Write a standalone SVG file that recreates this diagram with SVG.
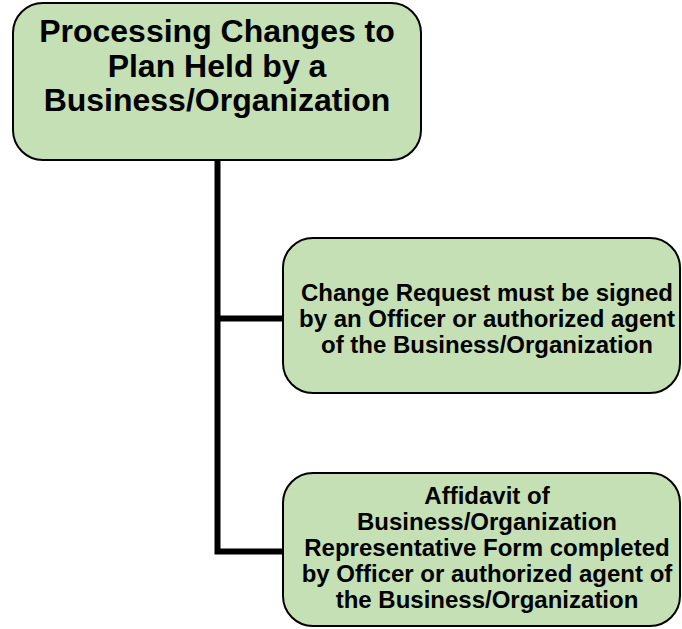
<svg xmlns="http://www.w3.org/2000/svg" width="682" height="629" viewBox="0 0 682 629">
  <style>
    .box { fill: #c5e0b4; stroke: #000; stroke-width: 2; }
    .link { fill: none; stroke: #000; stroke-width: 6; stroke-linejoin: miter; }
    .label { font-family: "Liberation Sans", Arial, sans-serif; font-weight: 700; text-anchor: middle; fill: #000; }
  </style>
  <rect width="682" height="629" fill="#fff"/>

  <!-- connectors: trunk from the root with two branches -->
  <g id="connectors">
    <path class="link" d="M217.5 160 V551.5 H284"/>
    <path class="link" d="M217.5 318.5 H284"/>
  </g>

  <!-- root node -->
  <g id="node-root" class="label" font-size="32">
    <rect class="box" x="13" y="3" width="408" height="157" rx="30" ry="30"/>
    <text x="217" y="42">Processing Changes to</text>
    <text x="217" y="76.5">Plan Held by a</text>
    <text x="217" y="111">Business/Organization</text>
  </g>

  <!-- change request node -->
  <g id="node-change-request" class="label" font-size="24">
    <rect class="box" x="283" y="238" width="397" height="155" rx="30" ry="30"/>
    <text x="487" y="301">Change Request must be signed</text>
    <text x="487" y="327">by an Officer or authorized agent</text>
    <text x="487" y="353">of the Business/Organization</text>
  </g>

  <!-- affidavit node -->
  <g id="node-affidavit" class="label" font-size="24">
    <rect class="box" x="283" y="473" width="397" height="153" rx="30" ry="30"/>
    <text x="487" y="504">Affidavit of</text>
    <text x="487" y="530">Business/Organization</text>
    <text x="487" y="556">Representative Form completed</text>
    <text x="487" y="582">by Officer or authorized agent of</text>
    <text x="487" y="608">the Business/Organization</text>
  </g>
</svg>
